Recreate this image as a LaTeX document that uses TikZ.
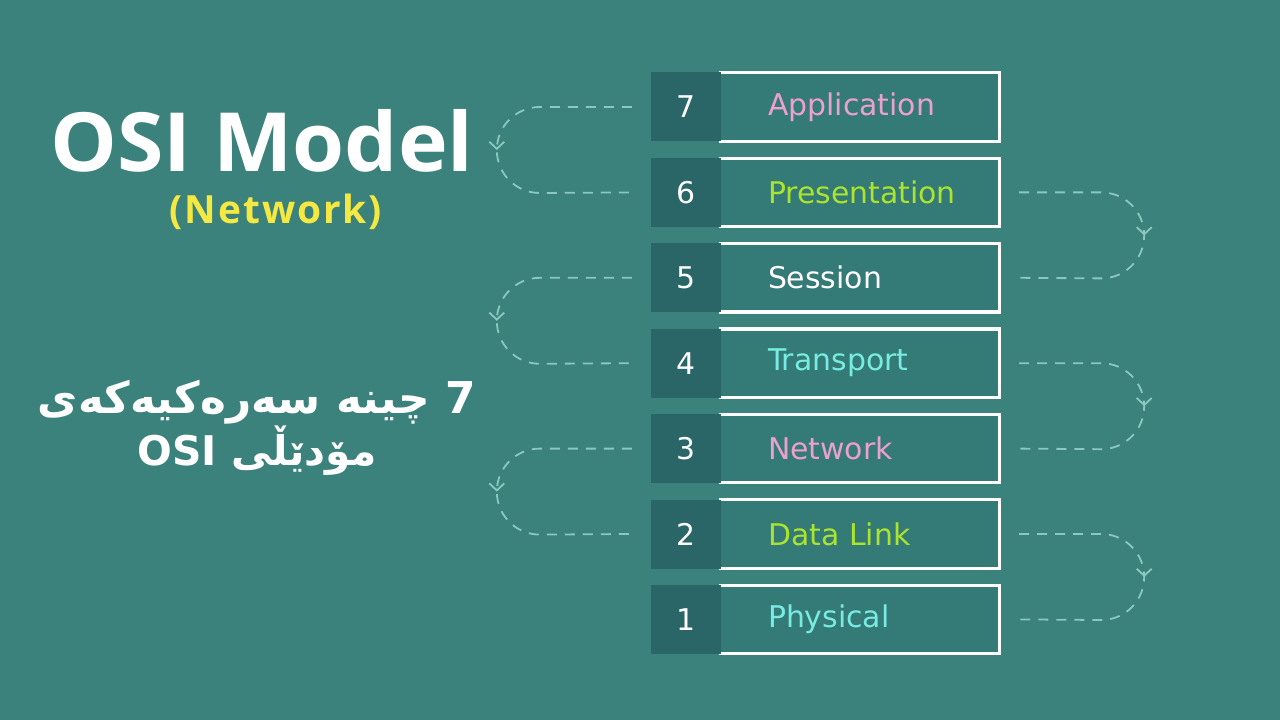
\documentclass[tikz,border=0pt]{standalone}
\usepackage{fontspec}
\setmainfont{DejaVu Sans}
\newfontfamily\titlefont[FakeStretch=1.03]{Open Sans}
\newfontfamily\subfont[LetterSpace=5]{Open Sans}
\newfontfamily\arabicfont[Script=Arabic]{DejaVu Sans}
\TeXXeTstate=1
\usetikzlibrary{arrows.meta,decorations.markings}
\definecolor{bg}{RGB}{58,130,123}
\definecolor{numfill}{RGB}{42,102,103}
\definecolor{layfill}{RGB}{52,122,118}
\definecolor{lpink}{RGB}{236,160,204}
\definecolor{llime}{RGB}{170,228,46}
\definecolor{lcyan}{RGB}{120,236,226}
\definecolor{flowc}{RGB}{140,200,192}
\definecolor{ttlyellow}{RGB}{246,232,66}
\tikzset{
  numbox/.style={fill=numfill, minimum width=70bp, minimum height=69bp, inner sep=0pt, text=white, font=\fontsize{30}{30}\selectfont},
  laybox/.style={fill=layfill, minimum width=278bp, minimum height=68bp, inner sep=0pt, text width=184bp, align=left, font=\fontsize{30}{30}\selectfont},
  frame/.style={draw=white, line width=3.2bp},
  flow/.style={draw=flowc, line width=1.8bp, dash pattern=on 10bp off 8bp,
    postaction={decorate, decoration={markings, mark=at position 0.5 with {\arrow[line width=1.8bp, flowc]{Straight Barb[length=7bp,width=15bp]}}}}}
}
\begin{document}
\begin{tikzpicture}[x=1bp,y=-1bp]
\fill[bg] (0,0) rectangle (1280,720);
\useasboundingbox (0,0) rectangle (1280,720);
\foreach \n/\t/\c [count=\i from 0] in {7/Application/lpink,6/Presentation/llime,5/Session/white,4/Transport/lcyan,3/Network/lpink,2/Data Link/llime,1/Physical/lcyan}{
  \node[laybox, text=\c] (lay\n) at (860,{107+85.4*\i}) {\t};
  \draw[frame] ([xshift=-1.6bp]lay\n.north west) -- (lay\n.north east) -- (lay\n.south east) -- ([xshift=-1.6bp]lay\n.south west);
  \node[numbox] (num\n) at (686,{107+85.4*\i}) {\n};
}
% left loops
\draw[flow] ([xshift=-19bp]num7.west) -- ++(-92,0) arc[start angle=270,end angle=90,radius=43] -- ([xshift=-19bp]num6.west);
\draw[flow] ([xshift=-19bp]num5.west) -- ++(-92,0) arc[start angle=270,end angle=90,radius=43] -- ([xshift=-19bp]num4.west);
\draw[flow] ([xshift=-19bp]num3.west) -- ++(-92,0) arc[start angle=270,end angle=90,radius=43] -- ([xshift=-19bp]num2.west);
% right loops
\draw[flow] ([xshift=20bp]lay6.east) -- ++(82,0) arc[start angle=-90,end angle=90,radius=43] -- ([xshift=20bp]lay5.east);
\draw[flow] ([xshift=20bp]lay4.east) -- ++(82,0) arc[start angle=-90,end angle=90,radius=43] -- ([xshift=20bp]lay3.east);
\draw[flow] ([xshift=20bp]lay2.east) -- ++(82,0) arc[start angle=-90,end angle=90,radius=43] -- ([xshift=20bp]lay1.east);
% titles
\node[font=\titlefont\bfseries\fontsize{82}{82}\selectfont, text=white, anchor=base, inner sep=0pt] (title) at (262,172) {OSI Model};
\node[font=\subfont\bfseries\fontsize{39}{39}\selectfont, text=ttlyellow, anchor=base, inner sep=0pt] (sub) at (276,224) {(Network)};
\node[font=\arabicfont\bfseries\fontsize{44}{50}\selectfont, text=white, align=center, inner sep=0pt] (kurd) at (257,428) {\beginR 7 چینە سەرەکیەکەی\endR\\{\fontsize{41}{50}\selectfont\beginR مۆدێڵی \beginL OSI\endL\endR}};
\end{tikzpicture}
\end{document}
